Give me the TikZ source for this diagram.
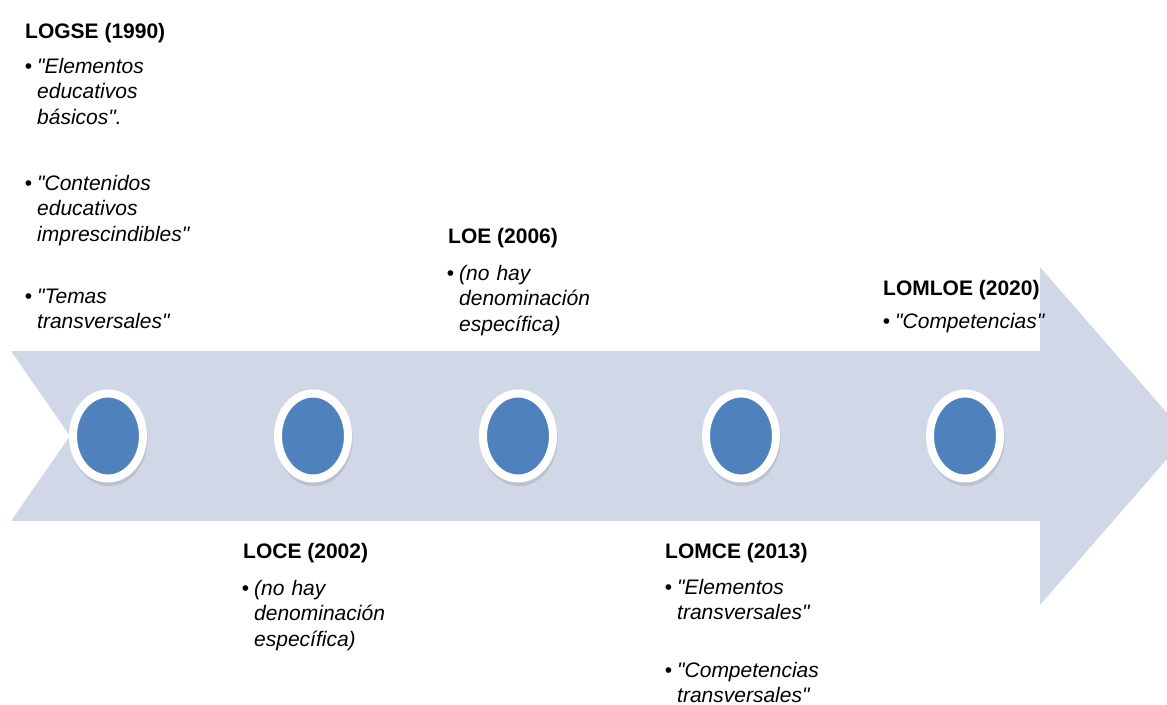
\documentclass[tikz,border=0pt]{standalone}
\usepackage{fontspec}
\setmainfont{Liberation Sans}[Ligatures=TeXOff]
\usetikzlibrary{shapes.geometric,shadows}
\definecolor{flecha}{HTML}{D0D8E8}
\definecolor{azul}{HTML}{4F81BD}
\newcommand\vineta{\leavevmode\llap{\normalfont\fontsize{21}{25.5}\selectfont •\hspace{5pt}}}

\begin{document}
\begin{tikzpicture}[x=1pt, y=-1pt,
  hito/.style = {ellipse, fill=azul, draw=white, line width=8pt,
    minimum width=70pt, minimum height=85pt,
    drop shadow={shadow scale=1.1, shadow xshift=1pt, shadow yshift=-3pt,
      opacity=0.25}},
  ley/.style = {anchor=base west, inner sep=0pt,
    font=\bfseries\fontsize{21}{25.5}\selectfont},
  punto/.style = {anchor=base west, inner sep=0pt, text width=200pt, align=left,
    font=\itshape\fontsize{21}{25.5}\selectfont}
  ]
  \useasboundingbox (0,0) rectangle (1167,704);
  \clip (0,0) rectangle (1167,704);

  \fill [flecha] (11,351) -- (1040,351) -- (1040,267) -- (1187,436)
    -- (1040,605) -- (1040,521) -- (11,521) -- (70,436) -- cycle;

  \node [hito] (c1990) at (108,436) {};
  \node [hito] (c2002) at (313,436) {};
  \node [hito] (c2006) at (518,436) {};
  \node [hito] (c2013) at (741,436) {};
  \node [hito] (c2020) at (965,436) {};

  \node [ley] (logse) at (25,38) {LOGSE (1990)};
  \node [punto] (logse1) at (37,73) {\vineta"Elementos\\educativos\\básicos".};
  \node [punto] (logse2) at (37,190) {\vineta"Contenidos\\educativos\\imprescindibles"};
  \node [punto] (logse3) at (37,303) {\vineta"Temas\\transversales"};

  \node [ley] (loce) at (243,558) {LOCE (2002)};
  \node [punto] (loce1) at (254,595) {\vineta(no hay\\denominación\\específica)};

  \node [ley] (loe) at (448,243) {LOE (2006)};
  \node [punto] (loe1) at (459,280) {\vineta(no hay\\denominación\\específica)};

  \node [ley] (lomce) at (665,558) {LOMCE (2013)};
  \node [punto] (lomce1) at (677,594) {\vineta"Elementos\\transversales"};
  \node [punto] (lomce2) at (677,677) {\vineta"Competencias\\transversales"};

  \node [ley] (lomloe) at (883,295) {LOMLOE (2020)};
  \node [punto] (lomloe1) at (895,328) {\vineta"Competencias"};
\end{tikzpicture}
\end{document}
